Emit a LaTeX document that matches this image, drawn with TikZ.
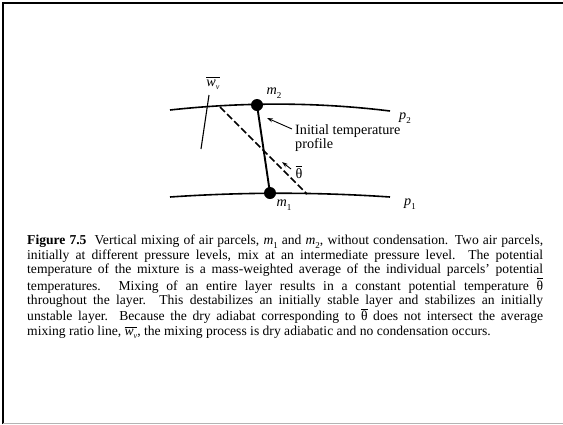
\documentclass[tikz,border=0pt]{standalone}
\usepackage{fontspec}
\setmainfont{Liberation Serif}
\usepackage{amsmath}
\usepackage{tikz}
\usetikzlibrary{arrows.meta}
\definecolor{framegray}{HTML}{B4B4B4}
\newcommand{\isub}[2]{\textit{#1}\raisebox{-0.55ex}{\small #2}}
\newcommand{\thbar}{$\overline{\text{θ}}$}
\newcommand{\wbar}{$\overline{\text{\textit{w}\raisebox{-0.45ex}{\footnotesize\textit{v}}}}$}

\begin{document}
\begin{tikzpicture}[x=1pt,y=-1pt,
  dot/.style={circle,fill=black,inner sep=0pt,minimum size=12pt},
  lvl/.style={line width=1.6pt},
  lbl/.style={inner sep=0pt,font=\fontsize{14.2}{14}\selectfont},
  ptr/.style={line width=0.9pt,-{Stealth[length=6pt,width=4pt]}}]
  \useasboundingbox (0,0) rectangle (563,424);
  % page frame
  \draw[line width=1.5pt] (3,424) -- (3,3) -- (563,3);
  \draw[framegray,line width=1pt] (3,423) -- (563,423);
  % pressure levels
  \coordinate (ptwol) at (170,110);
  \coordinate (ptwor) at (390,111);
  \coordinate (ponel) at (170,197);
  \coordinate (poner) at (390,197);
  \draw[lvl] (ptwol) .. controls (243,102) and (317,102) .. (ptwor);
  \draw[lvl] (ponel) .. controls (243,192) and (317,192) .. (poner);
  \node[lbl] (ptwo) at (405,118) {\isub{p}{2}};
  \node[lbl] (pone) at (410,204) {\isub{p}{1}};
  % parcels and initial profile
  \node[dot] (mtwo) at (257,105) {};
  \node[dot] (mone) at (270,193) {};
  \draw[line width=1.9pt] (mtwo.center) -- (mone.center);
  \node[lbl] (mtwolab) at (274,93) {\isub{m}{2}};
  \node[lbl] (monelab) at (284,205) {\isub{m}{1}};
  % mixed layer (dry adiabat)
  \coordinate (dtop) at (220,107);
  \coordinate (dbot) at (307,194);
  \draw[lvl,dash pattern=on 7pt off 3pt] (dtop) -- (dbot);
  % average mixing ratio line
  \coordinate (wtop) at (209,95);
  \coordinate (wbot) at (201,149);
  \draw[line width=1.1pt] (wtop) -- (wbot);
  \node[lbl] (wlab) at (213,83) {\wbar};
  % labels with pointers
  \node[lbl,align=left,anchor=west] (itp) at (295,138) {Initial temperature\\profile};
  \coordinate (itail) at (292,129);
  \coordinate (itip) at (267,118);
  \draw[ptr] (itail) -- (itip);
  \node[lbl] (thlab) at (299,172) {\thbar};
  \coordinate (ttail) at (291,169);
  \coordinate (ttip) at (282,162);
  \draw[ptr] (ttail) -- (ttip);
  % caption
  \node[anchor=north west,inner sep=0pt,text width=516pt,align=justify,
        font=\fontsize{13.6}{14.5}\selectfont] (capt) at (27,235)
  {\textbf{Figure 7.5}\ \ Vertical mixing of air parcels, \isub{m}{1} and \isub{m}{2}, without condensation. Two air parcels,\linebreak
   initially at different pressure levels, mix at an intermediate pressure level. The potential\linebreak
   temperature of the mixture is a mass-weighted average of the individual parcels' potential\linebreak
   temperatures. Mixing of an entire layer results in a constant potential temperature \thbar\linebreak
   throughout the layer. This destabilizes an initially stable layer and stabilizes an initially\linebreak
   unstable layer. Because the dry adiabat corresponding to \thbar\ does not intersect the average\linebreak
   mixing ratio line, \wbar, the mixing process is dry adiabatic and no condensation occurs.};
\end{tikzpicture}
\end{document}
